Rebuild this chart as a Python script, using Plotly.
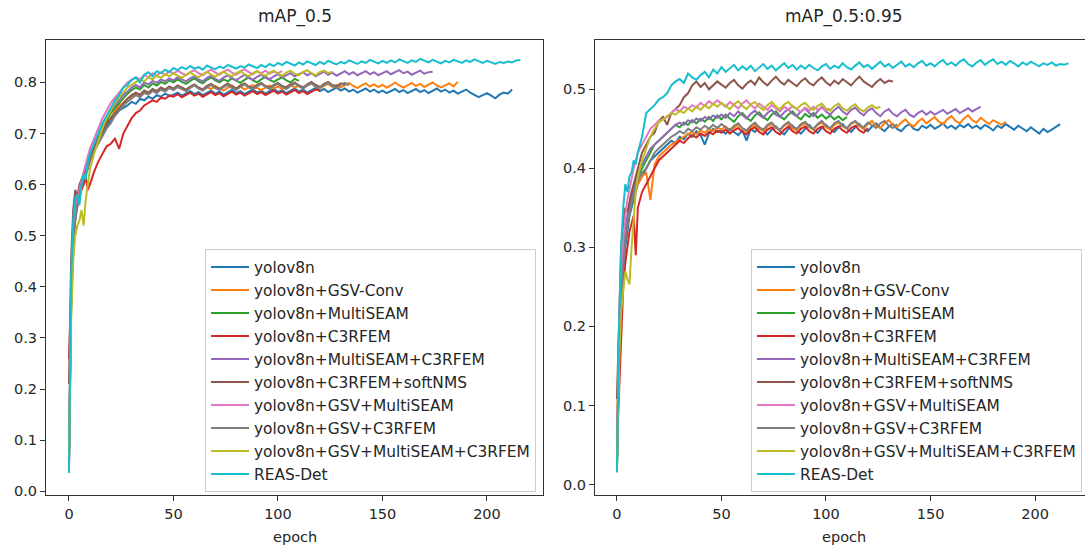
import plotly.graph_objects as go

W, H = 1085, 547

names = ["yolov8n", "yolov8n+GSV-Conv", "yolov8n+MultiSEAM", "yolov8n+C3RFEM",
         "yolov8n+MultiSEAM+C3RFEM", "yolov8n+C3RFEM+softNMS", "yolov8n+GSV+MultiSEAM",
         "yolov8n+GSV+C3RFEM", "yolov8n+GSV+MultiSEAM+C3RFEM", "REAS-Det"]
colors = ["#1f77b4", "#ff7f0e", "#2ca02c", "#d62728", "#9467bd",
          "#8c564b", "#e377c2", "#7f7f7f", "#bcbd22", "#17becf"]
x_ticks = [0, 50, 100, 150, 200]

# ---------- mAP_0.5 (epochs 0-9 every epoch, then every 2 epochs) ----------
map50_yolov8n = [.05,.35,.48,.53,.56,.58,.6,.61,.62,.635,
    .65,.67,.685,.70,.715,.725,.735,.745,.75,.755,.762,.758,.768,.765,.772,.768,.775,.772,.778,.774,
    .776,.78,.774,.779,.783,.777,.781,.775,.78,.784,.778,.782,.776,.781,.785,.779,.783,.777,.782,.786,.78,.784,.778,.783,.787,
    .781,.785,.779,.784,.788,.782,.786,.78,.785,.789,.783,.787,.781,.786,.79,.784,.788,.782,.786,.78,.784,.788,.782,.786,.78,
    .784,.779,.783,.787,.781,.785,.779,.783,.787,.781,.785,.779,.784,.788,.782,.786,.78,.784,.778,.782,.786,.78,.776,.771,.775,
    .779,.774,.769,.776,.78,.778,.786]
map50_gsvconv = [.06,.38,.5,.55,.57,.58,.6,.62,.63,.64,
    .655,.675,.69,.705,.72,.73,.745,.755,.76,.768,.772,.778,.775,.782,.779,.785,.781,.788,.784,.79,
    .786,.792,.788,.784,.79,.795,.789,.785,.791,.787,.793,.788,.784,.79,.794,.788,.792,.786,.791,.795,.789,.785,.79,.794,.788,
    .792,.787,.791,.796,.79,.794,.789,.793,.798,.792,.788,.793,.797,.791,.795,.79,.794,.799,.793,.789,.794,.798,.792,.796,.791,
    .795,.79,.794,.8,.794,.79,.795,.799,.793,.797,.791,.795,.8,.794,.79,.794,.798,.792,.801]
map50_multiseam = [.07,.4,.52,.56,.58,.59,.61,.62,.635,.645,
    .66,.68,.695,.71,.725,.74,.75,.76,.77,.778,.785,.79,.786,.795,.79,.798,.794,.801,.797,.804,
    .8,.806,.801,.797,.803,.808,.802,.798,.805,.81,.804,.8,.806,.802,.808,.803,.799,.805,.81,.804,.8,.806,.811,.805,.801,
    .806,.81,.804,.8,.807,.803]
map50_c3rfem = [.26,.4,.5,.54,.56,.575,.59,.6,.615,.59,
    .6,.625,.645,.66,.675,.68,.69,.67,.7,.715,.73,.74,.745,.755,.76,.765,.762,.77,.768,.774,
    .772,.777,.771,.775,.78,.774,.778,.772,.777,.781,.775,.779,.773,.778,.782,.776,.78,.774,.779,.783,.777,.781,.775,.78,.784,
    .778,.782,.776,.781,.785,.779,.783,.777,.782,.786,.784]
map50_ms_c3 = [.05,.38,.5,.55,.57,.59,.6,.62,.63,.645,
    .66,.68,.7,.715,.73,.745,.755,.765,.775,.782,.79,.795,.79,.8,.796,.803,.799,.806,.802,.808,
    .804,.81,.806,.802,.808,.812,.806,.802,.809,.813,.807,.803,.81,.814,.808,.804,.81,.815,.809,.805,.811,.815,.809,.806,.812,
    .816,.81,.814,.818,.812,.816,.82,.814,.818,.812,.816,.821,.815,.819,.813,.817,.822,.816,.82,.814,.818,.822,.816,.82,.814,
    .818,.822,.816,.82,.824,.818,.821,.815,.819,.823,.817,.82,.821]
map50_c3_softnms = [.21,.45,.55,.59,.575,.6,.61,.615,.63,.64,
    .655,.675,.69,.705,.72,.73,.74,.75,.76,.768,.775,.78,.776,.784,.78,.787,.783,.79,.786,.792,
    .788,.794,.79,.786,.792,.796,.79,.786,.793,.797,.791,.787,.793,.798,.792,.788,.794,.798,.792,.789,.795,.799,.793,.789,.795,
    .799,.793,.79,.796,.8,.794,.79,.796,.801,.795,.791,.797,.801,.795,.792,.798,.796]
map50_gsv_ms = [.06,.4,.5,.54,.57,.59,.61,.625,.64,.655,
    .67,.69,.71,.73,.745,.76,.77,.78,.79,.8,.805,.81,.806,.815,.81,.818,.813,.82,.815,.822,
    .817,.823,.818,.814,.82,.824,.818,.814,.82,.825,.819,.815,.821,.825,.819,.815,.821,.826,.82,.816,.822,.818,.823,.817,.821,
    .818,.822]
map50_gsv_c3 = [.05,.36,.48,.53,.56,.58,.6,.61,.62,.63,
    .645,.665,.68,.695,.71,.72,.735,.745,.755,.762,.768,.775,.771,.779,.776,.783,.779,.786,.782,.789,
    .785,.791,.787,.783,.789,.794,.788,.784,.79,.795,.789,.785,.791,.795,.789,.785,.791,.796,.79,.786,.792,.797,.791,.787,.793,
    .797,.791,.787,.793,.798,.792,.788,.794,.798,.792,.789,.795,.799,.793,.789,.795,.799,.794]
map50_gsv_ms_c3 = [.06,.33,.45,.5,.52,.53,.55,.52,.57,.6,
    .63,.66,.685,.71,.73,.745,.76,.77,.78,.79,.795,.8,.806,.802,.81,.806,.813,.809,.816,.812,
    .818,.813,.809,.815,.82,.814,.81,.816,.821,.815,.811,.817,.821,.815,.812,.818,.822,.816,.812,.818,.822,.816,.813,.819,.823,
    .817,.813,.819,.823,.817,.814,.82,.824,.818,.814,.82,.823,.818,.821]
map50_reas = [.036,.42,.53,.575,.58,.56,.6,.62,.61,.645,
    .66,.68,.70,.72,.735,.75,.765,.775,.79,.795,.805,.81,.80,.815,.82,.812,.822,.818,.825,.82,
    .828,.824,.83,.826,.832,.827,.83,.825,.833,.829,.826,.831,.828,.834,.83,.827,.832,.829,.835,.831,.828,.834,.83,.836,.832,
    .838,.834,.84,.836,.833,.839,.835,.841,.837,.834,.84,.836,.842,.838,.835,.84,.837,.843,.839,.836,.841,.838,.844,.84,.837,
    .842,.838,.843,.839,.845,.841,.838,.843,.84,.846,.842,.839,.844,.84,.837,.842,.839,.844,.841,.838,.843,.84,.845,.841,.838,
    .842,.839,.836,.84,.838,.841,.839,.843,.844]

# ---------- mAP_0.5:0.95 ----------
map95_yolov8n = [.02,.15,.22,.27,.3,.32,.34,.35,.36,.37,
    .38,.39,.4,.41,.415,.42,.425,.43,.435,.432,.44,.437,.444,.44,.447,.442,.43,.444,.45,.446,
    .448,.444,.45,.446,.442,.448,.435,.45,.446,.452,.447,.443,.449,.453,.447,.443,.45,.454,.448,.444,.45,.455,.449,.445,.451,
    .455,.449,.446,.452,.456,.45,.446,.452,.456,.45,.447,.453,.457,.451,.447,.453,.456,.45,.447,.453,.456,.45,.448,.454,.451,
    .455,.45,.453,.457,.451,.454,.45,.455,.452,.456,.451,.454,.45,.455,.452,.448,.454,.451,.456,.452,.449,.454,.451,.447,.452,
    .448,.444,.45,.446,.449,.452,.456]
map95_gsvconv = [.08,.2,.26,.3,.32,.33,.35,.36,.37,.375,
    .38,.39,.395,.36,.405,.415,.42,.425,.43,.433,.437,.44,.443,.446,.443,.448,.445,.45,.447,.452,
    .449,.453,.448,.452,.455,.45,.446,.452,.455,.45,.447,.453,.456,.451,.448,.454,.457,.451,.448,.454,.457,.452,.449,.455,.458,
    .452,.449,.455,.458,.453,.45,.456,.459,.453,.45,.456,.46,.454,.451,.457,.461,.455,.452,.458,.462,.456,.453,.459,.463,.457,
    .461,.465,.459,.456,.462,.466,.46,.457,.463,.467,.461,.458,.464,.46,.456,.461,.458,.455,.459]
map95_multiseam = [.02,.18,.25,.29,.31,.33,.35,.36,.37,.38,
    .39,.4,.41,.42,.43,.435,.44,.445,.45,.455,.452,.458,.455,.461,.457,.463,.459,.465,.46,.467,
    .462,.468,.463,.459,.466,.47,.464,.46,.467,.471,.465,.461,.468,.472,.466,.462,.468,.472,.466,.462,.469,.465,.47,.464,.468,
    .463,.467,.462,.466,.461,.465]
map95_c3rfem = [.05,.12,.2,.25,.28,.3,.32,.33,.34,.29,
    .35,.37,.38,.39,.4,.41,.415,.42,.425,.43,.435,.432,.438,.442,.439,.444,.441,.446,.443,.448,
    .445,.449,.444,.448,.451,.446,.443,.449,.452,.446,.443,.449,.452,.446,.443,.449,.453,.447,.444,.45,.453,.447,.444,.45,.453,
    .447,.444,.45,.453,.448,.445,.451,.454,.448,.445,.451]
map95_ms_c3 = [.03,.18,.25,.29,.32,.34,.355,.365,.375,.385,
    .395,.405,.415,.425,.43,.435,.44,.445,.45,.455,.458,.455,.461,.458,.463,.46,.465,.462,.467,.464,
    .468,.464,.47,.466,.472,.467,.463,.469,.473,.468,.464,.47,.474,.468,.465,.471,.475,.469,.466,.472,.476,.47,.466,.472,.478,
    .472,.468,.474,.478,.472,.468,.474,.477,.471,.467,.473,.476,.47,.466,.472,.475,.469,.466,.471,.474,.468,.465,.47,.473,.468,
    .472,.468,.471,.474,.469,.472,.475,.47,.473,.476,.472,.475,.478]
map95_c3_softnms = [.108,.22,.3,.33,.35,.345,.36,.37,.38,.39,
    .4,.42,.43,.44,.445,.46,.465,.455,.47,.475,.48,.49,.495,.505,.51,.503,.508,.5,.505,.51,
    .506,.502,.508,.512,.505,.501,.507,.511,.506,.515,.509,.505,.511,.516,.51,.506,.512,.508,.504,.51,.514,.508,.505,.511,.515,
    .509,.505,.511,.507,.513,.509,.505,.511,.516,.51,.506,.503,.509,.513,.508,.511,.51]
map95_gsv_ms = [.03,.2,.27,.31,.34,.36,.375,.39,.4,.41,
    .42,.43,.44,.45,.455,.46,.462,.465,.47,.475,.472,.478,.475,.48,.477,.483,.479,.485,.481,.486,
    .482,.478,.484,.48,.476,.482,.486,.48,.476,.482,.478,.474,.48,.476,.472,.478,.474,.479,.475,.471,.477,.473,.478,.474,.477,
    .473,.476]
map95_gsv_c3 = [.02,.17,.24,.28,.31,.33,.345,.355,.365,.375,
    .385,.395,.4,.41,.42,.425,.43,.435,.44,.443,.447,.444,.45,.447,.452,.449,.454,.45,.455,.451,
    .456,.452,.448,.454,.457,.451,.448,.454,.458,.452,.449,.455,.458,.452,.449,.455,.459,.453,.45,.456,.459,.453,.45,.456,.46,
    .454,.451,.457,.46,.454,.451,.457,.46,.455,.452,.458,.455,.451,.457,.46,.454,.451,.456]
map95_gsv_ms_c3 = [.02,.15,.22,.25,.27,.26,.253,.3,.34,.37,
    .39,.41,.425,.44,.45,.458,.462,.466,.47,.468,.473,.47,.476,.472,.478,.474,.48,.476,.482,.478,
    .483,.479,.475,.481,.485,.479,.475,.481,.484,.478,.474,.48,.484,.478,.475,.481,.484,.478,.475,.48,.483,.477,.474,.479,.482,
    .476,.473,.479,.482,.476,.473,.478,.481,.475,.472,.477,.48,.476,.478]
map95_reas = [.015,.2,.3,.35,.38,.37,.39,.395,.41,.405,
    .42,.44,.47,.475,.48,.487,.49,.495,.505,.51,.513,.508,.52,.515,.512,.518,.522,.515,.525,.52,
    .528,.522,.527,.531,.524,.529,.525,.53,.523,.528,.532,.526,.53,.524,.529,.533,.527,.531,.525,.53,.526,.531,.527,.524,.529,
    .532,.526,.53,.527,.533,.528,.525,.53,.534,.528,.531,.526,.53,.535,.529,.532,.527,.531,.535,.529,.532,.528,.533,.536,.53,
    .533,.529,.534,.537,.531,.534,.53,.535,.538,.532,.529,.534,.537,.531,.535,.538,.532,.535,.531,.536,.533,.529,.534,.531,.535,
    .532,.529,.533,.531,.534,.53,.532,.531,.533]

map50 = [map50_yolov8n, map50_gsvconv, map50_multiseam, map50_c3rfem, map50_ms_c3,
         map50_c3_softnms, map50_gsv_ms, map50_gsv_c3, map50_gsv_ms_c3, map50_reas]
map95 = [map95_yolov8n, map95_gsvconv, map95_multiseam, map95_c3rfem, map95_ms_c3,
         map95_c3_softnms, map95_gsv_ms, map95_gsv_c3, map95_gsv_ms_c3, map95_reas]


def epochs(n):
    # sampled epochs: 0..9 every epoch, then every second epoch
    return [i if i < 10 else 10 + 2 * (i - 10) for i in range(n)]


FONT = "DejaVu Sans"
fig = go.Figure()
for i, (nm, c) in enumerate(zip(names, colors)):
    fig.add_trace(go.Scatter(x=epochs(len(map50[i])), y=map50[i], mode="lines", name=nm,
                             line=dict(color=c, width=2), xaxis="x", yaxis="y",
                             legend="legend", legendgroup=f"a{i}"))
for i, (nm, c) in enumerate(zip(names, colors)):
    fig.add_trace(go.Scatter(x=epochs(len(map95[i])), y=map95[i], mode="lines", name=nm,
                             line=dict(color=c, width=2), xaxis="x2", yaxis="y2",
                             legend="legend2", legendgroup=f"b{i}"))

ydom = [(H - 499) / H, (H - 40) / H]
axis_common = dict(showgrid=False, zeroline=False, showline=True, linecolor="#333333",
                   linewidth=1, ticks="outside", ticklen=5, tickcolor="#333333",
                   tickfont=dict(family=FONT, size=14.5, color="#262626"))

leg_common = dict(font=dict(family=FONT, size=15.4, color="#262626"),
                  bgcolor="rgba(255,255,255,0.85)", bordercolor="#cccccc", borderwidth=1,
                  xanchor="right", yanchor="bottom", tracegroupgap=0, itemwidth=38)

fig.update_layout(
    width=W, height=H, margin=dict(l=0, r=0, t=0, b=0),
    plot_bgcolor="white", paper_bgcolor="white",
    xaxis=dict(domain=[46 / W, 543 / W], range=[-11, 226.8], tickvals=x_ticks,
               mirror=True, anchor="y", **axis_common),
    yaxis=dict(domain=ydom, range=[-0.0078, 0.8835], tickvals=[k / 10 for k in range(9)],
               tickformat=".1f", mirror=True, anchor="x", **axis_common),
    xaxis2=dict(domain=[595 / W, 1.0], range=[-10.5, 223.9], tickvals=x_ticks,
                mirror=True, anchor="y2", **axis_common),
    yaxis2=dict(domain=ydom, range=[-0.0138, 0.5628], tickvals=[k / 10 for k in range(6)],
                tickformat=".1f", mirror=False, anchor="x2", **axis_common),
    legend=dict(x=536 / W, y=(H - 496) / H, **leg_common),
    legend2=dict(x=1082 / W, y=(H - 496) / H, **leg_common),
    annotations=[
        dict(text="mAP_0.5", x=294.5 / W, y=(H - 17) / H, xref="paper", yref="paper",
             showarrow=False, xanchor="center", yanchor="middle",
             font=dict(family=FONT, size=17, color="#262626")),
        dict(text="mAP_0.5:0.95", x=843.5 / W, y=(H - 17) / H, xref="paper", yref="paper",
             showarrow=False, xanchor="center", yanchor="middle",
             font=dict(family=FONT, size=17, color="#262626")),
        dict(text="epoch", x=294.5 / W, y=(H - 541) / H, xref="paper", yref="paper",
             showarrow=False, xanchor="center", yanchor="middle",
             font=dict(family=FONT, size=14.5, color="#262626")),
        dict(text="epoch", x=843.5 / W, y=(H - 541) / H, xref="paper", yref="paper",
             showarrow=False, xanchor="center", yanchor="middle",
             font=dict(family=FONT, size=14.5, color="#262626")),
    ],
)

fig.write_html("out.html", config={"displayModeBar": False},
               post_script="document.body.style.margin='0px';")
